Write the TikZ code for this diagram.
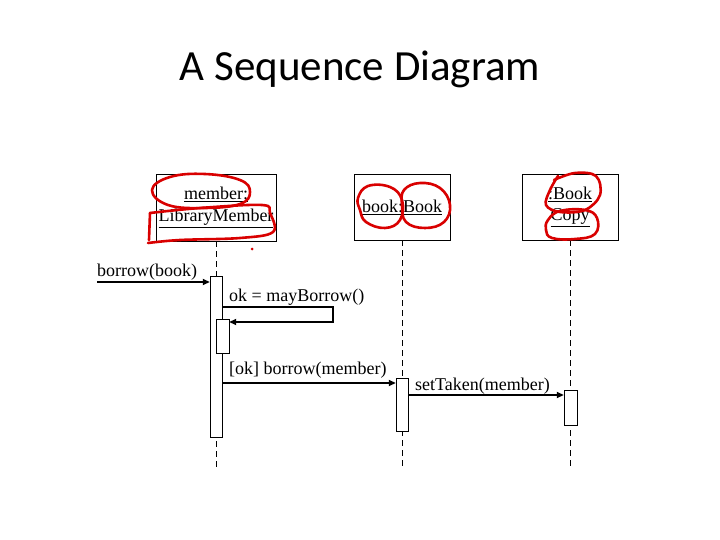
\documentclass[tikz,border=0pt]{standalone}
\usepackage{fontspec}
\setmainfont{Liberation Serif}
\newfontfamily\titlefont{Carlito}
\usetikzlibrary{arrows.meta}

\tikzset{
	obj/.style={draw, fill=white, minimum width=96pt, minimum height=66pt, align=center, inner sep=0pt, font=\fontsize{18}{21}\selectfont},
	act/.style={draw, fill=white, minimum width=12pt, inner sep=0pt},
	life/.style={dash pattern=on 6pt off 4pt, line width=0.8pt},
	msg/.style={line width=2pt, -{Triangle[length=7pt,width=6pt]}},
	lbl/.style={anchor=base west, inner sep=0pt, font=\fontsize{18}{20}\selectfont},
	scribble/.style={red!85!black, line width=2.6pt, line cap=round, line join=round}
}

\begin{document}
\begin{tikzpicture}[x=1pt, y=-1pt]
	\useasboundingbox (0,0) rectangle (720,540);
	\node[font=\titlefont\fontsize{43}{46}\selectfont] (title) at (360,69) {A Sequence Diagram};
	% objects
	\node[obj, minimum width=120pt, minimum height=67pt] (member) at (216,207.5) {\underline{member:}\\[1pt]\underline{LibraryMember}};
	\node[obj] (book) at (402,207) {\underline{book:Book}};
	\node[obj] (copy) at (570,207) {\underline{:Book}\\\underline{Copy}};
	% lifelines
	\coordinate (e1) at (216,468);
	\coordinate (e2) at (402,468);
	\coordinate (e3) at (570,468);
	\draw[life] (member.south) -- (e1);
	\draw[life] (book.south) -- (e2);
	\draw[life] (copy.south) -- (e3);
	% activations
	\node[act, minimum height=161pt] (a1) at (216,356.5) {};
	\node[act, minimum width=13pt, minimum height=34pt] (a2) at (222.5,336) {};
	\node[act, minimum height=53pt] (a3) at (402,404.5) {};
	\node[act, minimum width=13pt, minimum height=35pt] (a4) at (570.5,407.5) {};
	% messages
	\coordinate (in) at (97,282);
	\draw[msg] (in) -- (in -| a1.west);
	\node[lbl] (m1) at (97,276) {borrow(book)};
	\coordinate (s1) at (333,307);
	\coordinate (s2) at (333,322);
	\draw[msg] (a1.east |- s1) -- (s1) -- (s2) -- (a2.east |- s2);
	\node[lbl] (m2) at (229,301) {ok = mayBorrow()};
	\coordinate (r1) at (222,383);
	\draw[msg] (r1) -- (r1 -| a3.west);
	\node[lbl] (m3) at (229,374) {[ok] borrow(member)};
	\coordinate (r2) at (408,395);
	\draw[msg] (r2) -- (r2 -| a4.west);
	\node[lbl] (m4) at (415,390) {setTaken(member)};
	% red marks
	\draw[scribble] plot[smooth cycle, tension=0.7] coordinates {(152,190) (170,177) (205,174) (240,180) (250,192) (240,204) (205,208) (168,205)};
	\draw[scribble] plot[smooth, tension=0.6] coordinates {(150,213) (200,208) (262,205) (270,213) (273,232) (240,238) (180,240) (148,243)};
	\draw[scribble] (150,213) -- (149,240);
	\fill[red!85!black] (252,249) circle (1.5pt);
	\draw[scribble] plot[smooth cycle, tension=0.7] coordinates {(358,198) (368,186) (390,187) (402,200) (400,220) (385,228) (366,222) (360,210)};
	\draw[scribble] plot[smooth cycle, tension=0.7] coordinates {(404,190) (420,183) (440,188) (450,205) (444,222) (425,228) (406,222) (402,205)};
	\draw[scribble] plot[smooth, tension=0.6] coordinates {(554,180) (575,173) (596,176) (600,195) (585,210) (560,212) (546,205) (550,190) (558,176)};
	\draw[scribble] plot[smooth cycle, tension=0.7] coordinates {(548,220) (560,211) (585,210) (597,218) (595,234) (575,239) (552,238) (546,230)};
\end{tikzpicture}
\end{document}
